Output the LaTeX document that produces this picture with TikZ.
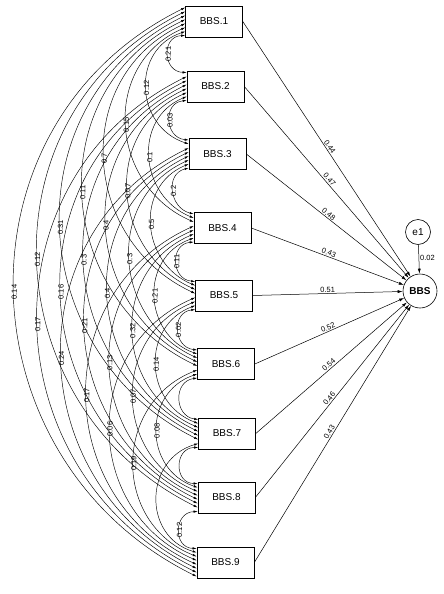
\documentclass[tikz,border=0pt]{standalone}
\usepackage{fontspec}
\setmainfont{Liberation Sans}
\usetikzlibrary{arrows.meta,calc}
\begin{document}
\begin{tikzpicture}[x=1pt,y=-1pt,
  boxnode/.style={draw,line width=0.6pt,minimum width=57pt,minimum height=31pt,inner sep=0pt,font=\fontsize{10}{12}\selectfont},
  latent/.style={draw,circle,line width=0.6pt,inner sep=0pt},
  lbl/.style={font=\fontsize{7.5}{8}\selectfont,inner sep=1pt},
  cov/.style={line width=0.45pt,{Latex[length=4pt,width=2.4pt]}-{Latex[length=4pt,width=2.4pt]}},
  reg/.style={line width=0.5pt,-{Latex[length=5pt,width=3pt]}}]
\useasboundingbox (0,0) rectangle (444,594);
\def\bxarr{{214,215.5,217.5,222.5,224,226,227,226.5,225.5}}
\def\byarr{{21.5,86.5,154,228,295.5,364,433.5,497.5,562.5}}
\foreach \i in {1,...,9}{
  \pgfmathsetmacro\cx{\bxarr[\i-1]}
  \pgfmathsetmacro\cy{\byarr[\i-1]}
  \node[boxnode] (B\i) at (\cx,\cy) {BBS.\i};
}
\node[latent,minimum size=34pt,font=\bfseries\fontsize{10}{12}\selectfont] (BBS) at (420,291) {BBS};
\node[latent,minimum size=25pt,font=\fontsize{10}{12}\selectfont] (e1) at (418,232) {e1};
\draw[reg] (e1) -- node[lbl,right,pos=0.45] {0.02} (BBS);
\foreach \i/\lab in {1/0.44,2/0.47,3/0.48,4/0.43,5/0.51,6/0.52,7/0.54,8/0.46,9/0.43}{
  \draw[reg] (B\i.east) -- node[lbl,sloped,above,pos=0.5] {\lab} (BBS);
}
\foreach \i/\j/\lab in {1/2/0.21, 1/3/0.12, 1/4/0.15, 1/5/0.7, 1/6/0.11, 1/7/0.31, 1/8/0.12, 1/9/0.14,
  2/3/0.03, 2/4/0.1, 2/5/0.07, 2/6/0.4, 2/7/0.3, 2/8/0.16, 2/9/0.17,
  3/4/0.2, 3/5/0.5, 3/6/0.3, 3/7/0.4, 3/8/0.21, 3/9/0.24,
  4/5/0.11, 4/6/0.21, 4/7/0.32, 4/8/0.13, 4/9/0.17,
  5/6/0.02, 5/7/0.14, 5/8/0.07, 5/9/0.06,
  6/7/{}, 6/8/0.08, 6/9/0.19,
  7/8/{}, 7/9/{},
  8/9/0.12}{
  \pgfmathsetmacro\mysi{(\i-1)+(9-\j)}
  \pgfmathsetmacro\mysj{\j-1-\i}
  \pgfmathsetmacro\mydyp{-14+4*\mysi}
  \pgfmathsetmacro\mydyq{-14+4*\mysj}
  \pgfmathsetmacro\myxp{\bxarr[\i-1]-28.5}
  \pgfmathsetmacro\myxq{\bxarr[\j-1]-28.5}
  \pgfmathsetmacro\myyp{\byarr[\i-1]+\mydyp}
  \pgfmathsetmacro\myyq{\byarr[\j-1]+\mydyq}
  \pgfmathsetmacro\myX{(\myxp+\myxq)/2-18-22.7*(\j-\i-1)}
  \pgfmathsetmacro\myD{(\myxp+\myxq)/2-\myX}
  \pgfmathsetmacro\myhh{(\myyq-\myyp)/2}
  \pgfmathsetmacro\myce{4*\myD/3}
  \pgfmathsetmacro\mycs{2/3*(\myhh-\myD*(\myD/\myhh))}
  \pgfmathsetmacro\myym{(\myyp+\myyq)/2}
  \draw[cov] ($(B\i.west)+(0,\mydyp)$) .. controls +(-\myce,\mycs) and +(-\myce,-\mycs) .. ($(B\j.west)+(0,\mydyq)$);
  \node[lbl,rotate=90] at (\myX,\myym) {\lab};
}
\end{tikzpicture}
\end{document}
